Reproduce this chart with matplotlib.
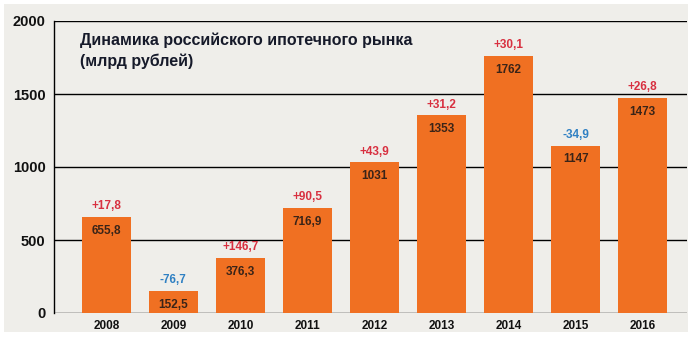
import matplotlib
matplotlib.use("Agg")
import matplotlib.pyplot as plt
from matplotlib.patches import Rectangle

years = ["2008", "2009", "2010", "2011", "2012", "2013", "2014", "2015", "2016"]
values = [655.8, 152.5, 376.3, 716.9, 1031, 1353, 1762, 1147, 1473]
value_labels = ["655,8", "152,5", "376,3", "716,9", "1031", "1353", "1762", "1147", "1473"]
changes = ["+17,8", "-76,7", "+146,7", "+90,5", "+43,9", "+31,2", "+30,1", "-34,9", "+26,8"]
yticks = [0, 500, 1000, 1500, 2000]

plt.rcParams["font.family"] = ["Liberation Sans", "DejaVu Sans"]

fig = plt.figure(figsize=(6.89, 3.42), dpi=100)
fig.patch.set_facecolor("white")
# grey panel behind the chart
fig.patches.append(Rectangle((4 / 689, 10 / 342), 684 / 689, 328 / 342,
                             transform=fig.transFigure, facecolor="#efeeea",
                             edgecolor="none", zorder=-10))

ax = fig.add_axes([54 / 689, 1 - 313 / 342, 633 / 689, 292 / 342])
ax.set_facecolor("none")
ax.set_zorder(1)

x = list(range(len(years)))
ax.bar(x, values, width=0.73, color="#f07022", zorder=3)

for xi, v, lab, ch in zip(x, values, value_labels, changes):
    ax.text(xi, v - 95, lab, ha="center", va="center", fontsize=8.5,
            fontweight="bold", color="#3a2418", zorder=4)
    col = "#2f80c3" if ch.startswith("-") else "#d83040"
    ax.text(xi, v + 75, ch, ha="center", va="center", fontsize=8.5,
            fontweight="bold", color=col, zorder=4)

ax.set_xlim(-0.78, 8.66)
ax.set_ylim(0, 2000)
ax.set_yticks(yticks)
ax.set_yticklabels([str(t) for t in yticks], fontsize=10.5, fontweight="bold",
                   color="#111111")
ax.set_xticks(x)
ax.set_xticklabels(years, fontsize=8.5, fontweight="bold", color="#111111")
ax.tick_params(axis="both", length=0)
ax.tick_params(axis="y", pad=6)
ax.tick_params(axis="x", pad=5)

for t in yticks:
    ax.axhline(t, color="black", linewidth=1, zorder=1)
for s in ["top", "right", "bottom"]:
    ax.spines[s].set_visible(False)
ax.spines["left"].set_linewidth(1)

ax.text(0.041, 0.96, "Динамика российского ипотечного рынка\n(млрд рублей)",
        transform=ax.transAxes, ha="left", va="top", fontsize=11.5,
        fontweight="bold", color="#161a2a", linespacing=1.45, zorder=5)

fig.savefig("out.png", dpi=100)
